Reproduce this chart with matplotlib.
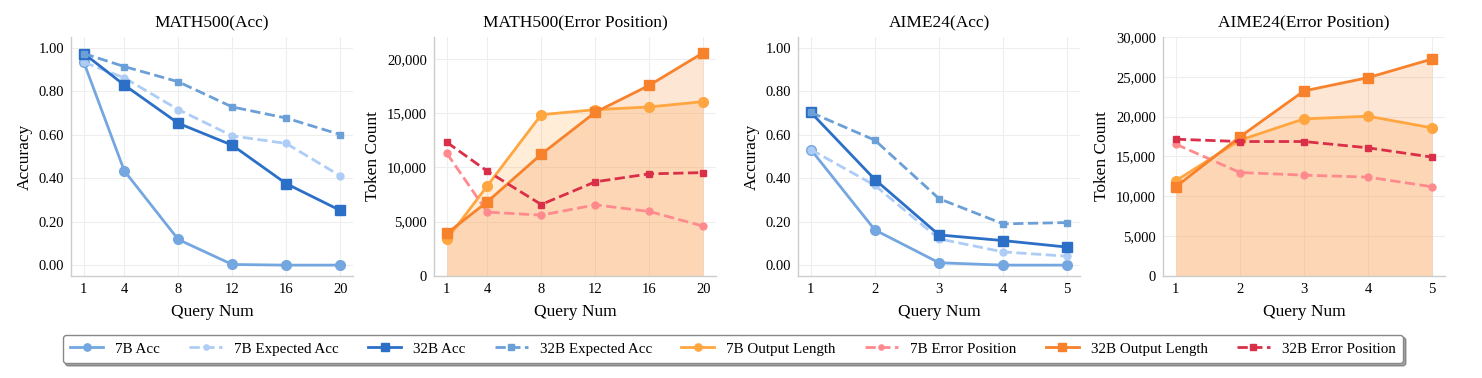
import matplotlib
matplotlib.use("Agg")
import matplotlib.pyplot as plt

plt.rcParams['font.family'] = ['Liberation Serif', 'DejaVu Serif']

# ---- data ----
math_x = [1, 4, 8, 12, 16, 20]
aime_x = [1, 2, 3, 4, 5]

math_7b_acc = [0.934, 0.434, 0.118, 0.003, 0.0, 0.0]
math_7b_exp = [0.934, 0.862, 0.716, 0.595, 0.560, 0.411]
math_32b_acc = [0.974, 0.829, 0.653, 0.552, 0.375, 0.252]
math_32b_exp = [0.974, 0.914, 0.844, 0.728, 0.677, 0.601]

math_7b_len = [3370, 8300, 14850, 15310, 15560, 16050]
math_32b_len = [3920, 6830, 11210, 15070, 17550, 20550]
math_7b_err = [11300, 5880, 5600, 6550, 5940, 4590]
math_32b_err = [12310, 9650, 6580, 8670, 9400, 9520]

aime_7b_acc = [0.532, 0.162, 0.011, 0.0, 0.0]
aime_7b_exp = [0.532, 0.367, 0.121, 0.061, 0.041]
aime_32b_acc = [0.703, 0.394, 0.139, 0.113, 0.083]
aime_32b_exp = [0.703, 0.575, 0.306, 0.190, 0.196]

aime_7b_len = [11950, 17050, 19720, 20060, 18590]
aime_32b_len = [11200, 17470, 23230, 24900, 27240]
aime_7b_err = [16550, 12990, 12660, 12410, 11200]
aime_32b_err = [17170, 16880, 16880, 16090, 14920]

titles = ["MATH500(Acc)", "MATH500(Error Position)", "AIME24(Acc)", "AIME24(Error Position)"]

C_7B_ACC = '#74a7e0'
C_7B_EXP = '#aecdf6'
C_32B_ACC = '#2b6fc7'
C_32B_EXP = '#6b9fd8'
C_7B_LEN = '#ffa640'
C_7B_ERR = '#ff8a8e'
C_32B_LEN = '#f7822b'
C_32B_ERR = '#da2f48'

fig = plt.figure(figsize=(14.82, 3.78), dpi=100)
W, H = 1482, 378
lefts = [71, 434, 798, 1163]
aw = 282
top, bottom = 37, 276
axes = [fig.add_axes([l / W, 1 - bottom / H, aw / W, (bottom - top) / H]) for l in lefts]


def style(ax, title, ylabel):
    ax.set_title(title, fontsize=12.5, pad=7)
    ax.set_xlabel("Query Num", fontsize=12.5, labelpad=6)
    ax.set_ylabel(ylabel, fontsize=12.5, labelpad=4)
    for s in ['top', 'right']:
        ax.spines[s].set_visible(False)
    for s in ['left', 'bottom']:
        ax.spines[s].set_color('#cccccc')
        ax.spines[s].set_linewidth(1.0)
    ax.grid(True, color='#eeeeee', linewidth=0.8)
    ax.set_axisbelow(True)
    ax.tick_params(length=0, labelsize=10.5, pad=5)


def acc_panel(ax, x, a7, e7, a32, e32, title):
    ax.plot(x, a7, '-o', color=C_7B_ACC, lw=2, ms=7, label='7B Acc')
    ax.plot(x, e7, '--o', color=C_7B_EXP, lw=2, ms=5, label='7B Expected Acc')
    ax.plot(x, a32, '-s', color=C_32B_ACC, lw=2, ms=7, label='32B Acc')
    ax.plot(x, e32, '--s', color=C_32B_EXP, lw=2, ms=5, label='32B Expected Acc')
    ax.set_xticks(x)
    ax.set_ylim(-0.05, 1.05)
    ax.set_yticks([0, 0.2, 0.4, 0.6, 0.8, 1.0])
    ax.set_yticklabels([f"{v:.2f}" for v in [0, 0.2, 0.4, 0.6, 0.8, 1.0]])
    style(ax, title, "Accuracy")


def tok_panel(ax, x, l7, l32, r7, r32, title, ymax, step):
    ax.fill_between(x, 0, l7, color=C_7B_LEN, alpha=0.2, lw=0)
    ax.fill_between(x, 0, l32, color=C_32B_LEN, alpha=0.2, lw=0)
    ax.plot(x, l7, '-o', color=C_7B_LEN, lw=2, ms=7, label='7B Output Length')
    ax.plot(x, r7, '--o', color=C_7B_ERR, lw=2, ms=5, label='7B Error Position')
    ax.plot(x, l32, '-s', color=C_32B_LEN, lw=2, ms=7, label='32B Output Length')
    ax.plot(x, r32, '--s', color=C_32B_ERR, lw=2, ms=5, label='32B Error Position')
    ax.set_xticks(x)
    ax.set_ylim(0, ymax)
    ticks = list(range(0, ymax + 1, step))
    ax.set_yticks(ticks)
    ax.set_yticklabels([f"{t:,}" for t in ticks])
    style(ax, title, "Token Count")


acc_panel(axes[0], math_x, math_7b_acc, math_7b_exp, math_32b_acc, math_32b_exp, titles[0])
tok_panel(axes[1], math_x, math_7b_len, math_32b_len, math_7b_err, math_32b_err, titles[1], 22000, 5000)
acc_panel(axes[2], aime_x, aime_7b_acc, aime_7b_exp, aime_32b_acc, aime_32b_exp, titles[2])
tok_panel(axes[3], aime_x, aime_7b_len, aime_32b_len, aime_7b_err, aime_32b_err, titles[3], 30000, 5000)

h1, lab1 = axes[0].get_legend_handles_labels()
h2, lab2 = axes[1].get_legend_handles_labels()
leg = fig.legend(h1 + h2, lab1 + lab2, loc='center', bbox_to_anchor=(0.4945, 0.077),
                 ncol=8, fontsize=10.8, frameon=True, fancybox=True, shadow=True,
                 markerscale=0.75, handlelength=2.2, columnspacing=1.95, borderpad=0.5)
leg.get_frame().set_edgecolor('#888888')

fig.savefig("out.png", dpi=100)
